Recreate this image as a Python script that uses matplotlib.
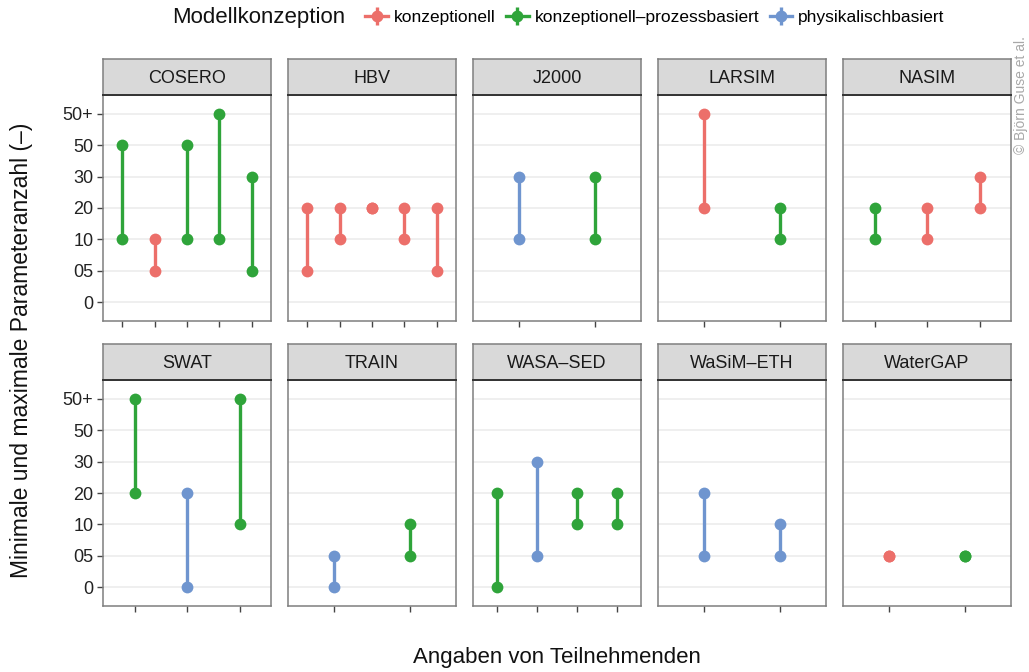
import matplotlib.pyplot as plt
from matplotlib.lines import Line2D
from matplotlib.legend_handler import HandlerTuple

plt.rcParams["font.family"] = ["Liberation Sans", "DejaVu Sans"]

# y axis categories (ordered bottom to top)
levels = ["0", "05", "10", "20", "30", "50", "50+"]

# per model: concept, min and max answer of each participant
models = ["COSERO", "HBV", "J2000", "LARSIM", "NASIM",
          "SWAT", "TRAIN", "WASA-SED", "WaSiM-ETH", "WaterGAP"]
concept = {
    "COSERO": ["kp", "k", "kp", "kp", "kp"],
    "HBV": ["k", "k", "k", "k", "k"],
    "J2000": ["p", "kp"],
    "LARSIM": ["k", "kp"],
    "NASIM": ["kp", "k", "k"],
    "SWAT": ["kp", "p", "kp"],
    "TRAIN": ["p", "kp"],
    "WASA-SED": ["kp", "p", "kp", "kp"],
    "WaSiM-ETH": ["p", "p"],
    "WaterGAP": ["k", "kp"],
}
min_vals = {
    "COSERO": ["10", "05", "10", "10", "05"],
    "HBV": ["05", "10", "20", "10", "05"],
    "J2000": ["10", "10"],
    "LARSIM": ["20", "10"],
    "NASIM": ["10", "10", "20"],
    "SWAT": ["20", "0", "10"],
    "TRAIN": ["0", "05"],
    "WASA-SED": ["0", "05", "10", "10"],
    "WaSiM-ETH": ["05", "05"],
    "WaterGAP": ["05", "05"],
}
max_vals = {
    "COSERO": ["50", "10", "50", "50+", "30"],
    "HBV": ["20", "20", "20", "20", "20"],
    "J2000": ["30", "30"],
    "LARSIM": ["50+", "20"],
    "NASIM": ["20", "20", "30"],
    "SWAT": ["50+", "20", "50+"],
    "TRAIN": ["05", "10"],
    "WASA-SED": ["20", "30", "20", "20"],
    "WaSiM-ETH": ["20", "10"],
    "WaterGAP": ["05", "05"],
}

colors = {"k": "#EC6F6A", "kp": "#2FA43A", "p": "#6F95CF"}
legend_names = {"k": "konzeptionell", "kp": "konzeptionell\u2013prozessbasiert",
                "p": "physikalischbasiert"}

fig = plt.figure(figsize=(10.29, 6.72), dpi=100)
W, H = 1029.0, 672.0

panel_left = 103
panel_w = 168
panel_step = 185
rows = [(59, 95, 321), (344, 380, 606)]  # strip top, panel top, panel bottom

for i, m in enumerate(models):
    r, c = divmod(i, 5)
    st, pt, pb = rows[r]
    x0 = panel_left + c * panel_step
    ax = fig.add_axes([x0 / W, 1 - pb / H, panel_w / W, (pb - pt) / H])
    n = len(concept[m])
    for j in range(n):
        col = colors[concept[m][j]]
        lo = levels.index(min_vals[m][j])
        hi = levels.index(max_vals[m][j])
        ax.plot([j, j], [lo, hi], color=col, lw=2.4, solid_capstyle="butt", zorder=3)
        ax.plot([j, j], [lo, hi], "o", color=col, ms=8.5, mec="none", zorder=4)
    ax.set_xlim(-0.6, n - 1 + 0.6)
    ax.set_ylim(-0.6, 6.6)
    ax.set_xticks(range(n))
    ax.set_xticklabels([])
    ax.set_yticks(range(len(levels)))
    if c == 0:
        ax.set_yticklabels(levels, fontsize=13, color="#222222")
        ax.tick_params(axis="y", length=4, width=1.0, color="#444444", pad=3)
    else:
        ax.set_yticklabels([])
        ax.tick_params(axis="y", length=0)
    ax.tick_params(axis="x", length=4, width=1.0, color="#444444")
    ax.grid(axis="y", color="#EBEBEB", lw=1.1, zorder=0)
    ax.set_axisbelow(True)
    for s in ax.spines.values():
        s.set_color("#7F7F7F")
        s.set_linewidth(1.1)

    # strip
    sax = fig.add_axes([x0 / W, 1 - pt / H, panel_w / W, (pt - st) / H])
    sax.set_facecolor("#D9D9D9")
    sax.set_xticks([])
    sax.set_yticks([])
    for s in sax.spines.values():
        s.set_color("#7F7F7F")
        s.set_linewidth(1.1)
    sax.spines["bottom"].set_color("#333333")
    sax.spines["bottom"].set_linewidth(1.4)
    sax.text(0.5, 0.47, m.replace("-", "\u2013"), ha="center", va="center",
             fontsize=13, color="#1A1A1A", transform=sax.transAxes)

# legend
handles = []
for key in ["k", "kp", "p"]:
    col = colors[key]
    h_line = Line2D([], [], color=col, lw=2.4)
    v_line = Line2D([], [], color=col, marker="|", ms=13, mew=2.4, ls="none")
    dot = Line2D([], [], color=col, marker="o", ms=8.5, mec="none", ls="none")
    handles.append((h_line, v_line, dot))
leg = fig.legend(handles, [legend_names[k] for k in ["k", "kp", "p"]],
                 handler_map={tuple: HandlerTuple(ndivide=1, pad=0)},
                 loc="center", bbox_to_anchor=(655 / W, 1 - 17 / H), ncol=3,
                 frameon=False, fontsize=12.5, handlelength=1.3,
                 handletextpad=0.35, columnspacing=0.6)
fig.text(172 / W, 1 - 17 / H, "Modellkonzeption", fontsize=16,
         ha="left", va="center", color="#111111")

fig.text(22 / W, 1 - 350 / H, "Minimale und maximale Parameteranzahl (\u2013)",
         rotation=90, fontsize=16.5, ha="center", va="center", color="#111111")
fig.text(557 / W, 1 - 657 / H, "Angaben von Teilnehmenden", fontsize=16,
         ha="center", va="center", color="#111111")
fig.text(1021 / W, 1 - 95 / H, "\u00a9 Bj\u00f6rn Guse et al.", rotation=90,
         fontsize=10, ha="center", va="center", color="#A8A8A8")

fig.savefig("out.png", dpi=100)
